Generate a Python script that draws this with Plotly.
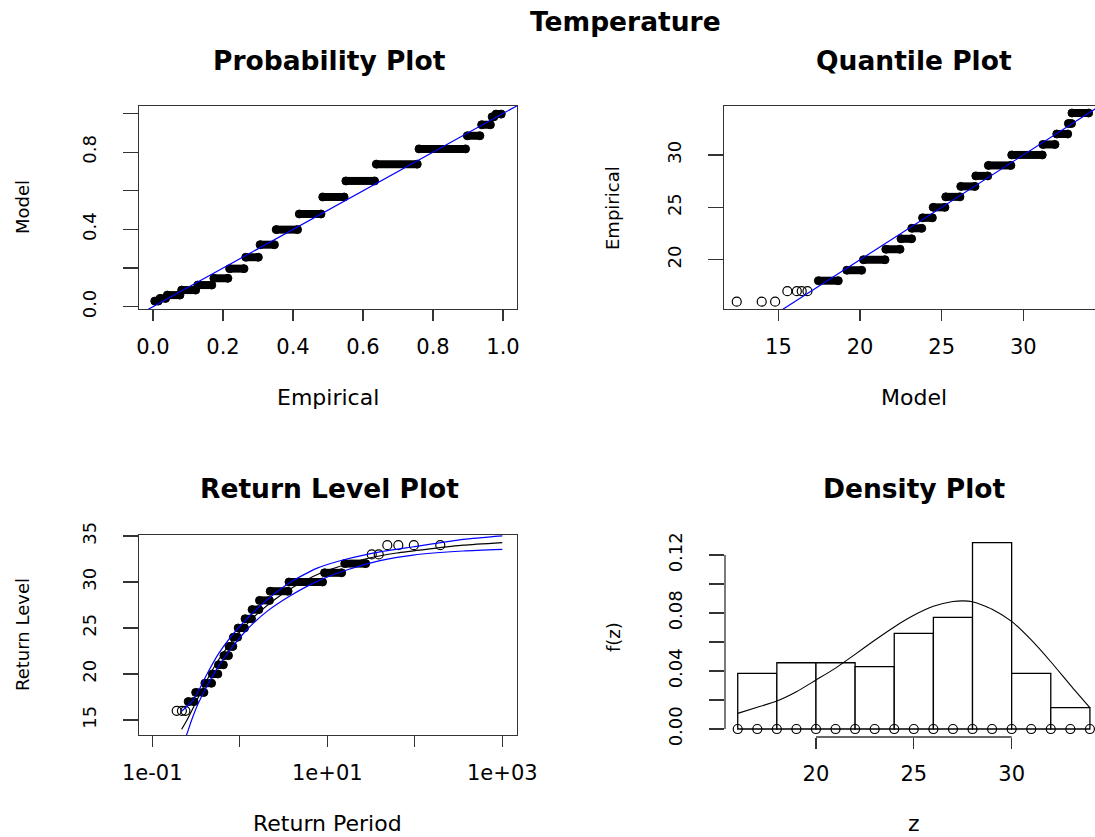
import plotly.graph_objects as go

# ---------------- values ----------------
levels = [16, 17, 18, 19, 20, 21, 22, 23, 24, 25, 26, 27, 28, 29, 30, 31, 32, 33, 34]

# Probability plot: model probability per level, empirical span of the tied points
pp_model = [0.029, 0.043, 0.060, 0.086, 0.112, 0.147, 0.197, 0.256, 0.321, 0.399,
            0.480, 0.568, 0.651, 0.738, 0.817, 0.885, 0.942, 0.983, 0.997]
pp_emp_lo = [0.005, 0.020, 0.041, 0.082, 0.128, 0.174, 0.219, 0.265, 0.306, 0.352,
             0.418, 0.485, 0.551, 0.638, 0.760, 0.898, 0.939, 0.969, 0.980]
pp_emp_hi = [0.015, 0.036, 0.077, 0.122, 0.168, 0.214, 0.260, 0.301, 0.347, 0.413,
             0.480, 0.546, 0.633, 0.755, 0.893, 0.934, 0.964, 0.974, 0.995]

# Quantile plot: model-quantile span of each level (18..34) + isolated points
qq_levels = [18, 19, 20, 21, 22, 23, 24, 25, 26, 27, 28, 29, 30, 31, 32, 33, 34]
qq_lo = [17.45, 19.19, 20.21, 21.58, 22.51, 23.17, 23.83, 24.48, 25.25, 26.17,
         27.09, 27.86, 29.29, 31.20, 32.05, 32.76, 32.98]
qq_hi = [18.67, 20.10, 21.53, 22.45, 23.16, 23.78, 24.43, 25.20, 26.12, 27.04,
         27.82, 29.24, 31.16, 31.94, 32.72, 32.95, 34.00]
qq_single_model = [12.45, 13.98, 14.80, 15.55, 16.13, 16.43, 16.78]
qq_single_level = [16, 16, 16, 17, 17, 17, 17]

# Return level plot: return-period span of each level (17..32) + isolated points
rl_levels = [17, 18, 19, 20, 21, 22, 23, 24, 25, 26, 27, 28, 29, 30, 31, 32]
rl_T_lo = [0.257, 0.313, 0.399, 0.486, 0.571, 0.659, 0.754, 0.845, 0.958, 1.148,
           1.381, 1.678, 2.224, 3.647, 9.29, 15.83]
rl_T_hi = [0.300, 0.389, 0.476, 0.561, 0.649, 0.743, 0.833, 0.945, 1.132, 1.361,
           1.652, 2.185, 3.560, 8.83, 14.58, 27.5]
rl_single_T = [0.190, 0.218, 0.239, 32.2, 38.7, 48.5, 64.8, 97.5, 195.5]
rl_single_level = [16, 16, 16, 33, 33, 34, 34, 34, 34]

# Return level curve and confidence band
rl_fit_T = [0.2163, 0.2495, 0.2825, 0.3177, 0.3573, 0.4036, 0.4592, 0.5272, 0.6152,
            0.7345, 0.8872, 1.0965, 1.3804, 1.7989, 2.4266, 3.4277, 5.188, 8.511,
            10.715, 25.76, 61.94, 148.9, 358.1, 1000]
rl_fit_level = [13.99, 15.0, 16.0, 17.0, 18.0, 19.0, 20.0, 21.0, 22.0, 23.0, 24.0,
                25.0, 26.0, 27.0, 28.0, 29.0, 30.0, 31.0, 31.35, 32.45, 33.15, 33.6,
                34.0, 34.28]
rl_ci_T = [0.2163, 0.2427, 0.2818, 0.3357, 0.4178, 0.5675, 0.7727, 1.1967, 2.0277,
           3.7411, 7.5509, 16.634, 39.99, 96.16, 358.1, 1000]
rl_ci_lower = [11.9, 13.19, 15.0, 16.81, 18.62, 20.80, 22.61, 24.78, 26.78, 28.48,
               30.04, 31.30, 32.32, 32.93, 33.37, 33.55]
rl_ci_upper = [15.95, 16.39, 16.96, 18.13, 19.92, 22.16, 23.93, 25.98, 28.02, 29.94,
               31.48, 32.50, 33.28, 33.83, 34.63, 35.01]

# Density plot
hist_breaks = [16, 18, 20, 22, 24, 26, 28, 30, 32, 34]
hist_density = [0.0384, 0.0457, 0.0457, 0.0430, 0.0660, 0.0770, 0.1285, 0.0384, 0.0147]
dens_z = [16, 17, 18, 19, 20, 21, 22, 23, 24, 25, 26, 27, 27.5, 28, 29, 30, 31, 32, 33, 34]
dens_f = [0.0108, 0.0150, 0.0193, 0.0257, 0.0338, 0.0420, 0.0515, 0.0612, 0.0704,
          0.0784, 0.0846, 0.0879, 0.0884, 0.0878, 0.0826, 0.0742, 0.0614, 0.0464,
          0.0303, 0.0147]

# Tick values / labels
pp_ticks = [0.0, 0.2, 0.4, 0.6, 0.8, 1.0]
pp_xlabels = ["0.0", "0.2", "0.4", "0.6", "0.8", "1.0"]
pp_ylabels = ["0.0", "", "0.4", "", "0.8", ""]
qq_xticks = [15, 20, 25, 30]
qq_yticks = [20, 25, 30]
rl_xticks = [0.1, 1, 10, 100, 1000]
rl_xlabels = ["1e-01", "", "1e+01", "", "1e+03"]
rl_yticks = [15, 20, 25, 30, 35]
de_xticks = [20, 25, 30]
de_yticks = [0.00, 0.02, 0.04, 0.06, 0.08, 0.10, 0.12]
de_ylabels = ["0.00", "", "0.04", "", "0.08", "", "0.12"]

# ---------------- figure ----------------
W, H = 1095, 837
FONT = "DejaVu Sans"
BLUE = "#0000ff"
AX = "#333333"


def fx(p):
    return p / W


def fy(p):
    return 1 - p / H


def segments(lo, hi, lev):
    xs, ys = [], []
    for a, b, l in zip(lo, hi, lev):
        xs += [a, b, None]
        ys += [l, l, None]
    return xs, ys


fig = go.Figure()


def add_clusters(lo, hi, lev, xa, ya):
    sx, sy = segments(lo, hi, lev)
    fig.add_trace(go.Scatter(x=sx, y=sy, mode="lines", xaxis=xa, yaxis=ya,
                             line=dict(color="black", width=8), hoverinfo="skip"))
    fig.add_trace(go.Scatter(x=list(lo) + list(hi), y=list(lev) + list(lev), mode="markers",
                             xaxis=xa, yaxis=ya,
                             marker=dict(symbol="circle", size=8, color="black",
                                         line=dict(color="black", width=1)),
                             hoverinfo="skip"))


open_marker = dict(symbol="circle-open", size=9, color="black", line=dict(color="black", width=1.2))

# Probability plot
add_clusters(pp_emp_lo, pp_emp_hi, pp_model, "x", "y")
fig.add_trace(go.Scatter(x=[-0.04, 1.04], y=[-0.04, 1.04], mode="lines", xaxis="x", yaxis="y",
                         line=dict(color=BLUE, width=1.2)))

# Quantile plot
add_clusters(qq_lo, qq_hi, qq_levels, "x2", "y2")
fig.add_trace(go.Scatter(x=qq_single_model, y=qq_single_level, mode="markers", xaxis="x2",
                         yaxis="y2", marker=open_marker))
fig.add_trace(go.Scatter(x=[10, 36], y=[10, 36], mode="lines", xaxis="x2", yaxis="y2",
                         line=dict(color=BLUE, width=1.2)))

# Return level plot
add_clusters(rl_T_lo, rl_T_hi, rl_levels, "x3", "y3")
fig.add_trace(go.Scatter(x=rl_single_T, y=rl_single_level, mode="markers", xaxis="x3",
                         yaxis="y3", marker=open_marker))
fig.add_trace(go.Scatter(x=rl_fit_T, y=rl_fit_level, mode="lines", xaxis="x3", yaxis="y3",
                         line=dict(color="black", width=1.2, shape="spline", smoothing=0.6)))
fig.add_trace(go.Scatter(x=rl_ci_T, y=rl_ci_lower, mode="lines", xaxis="x3", yaxis="y3",
                         line=dict(color=BLUE, width=1.2, shape="spline", smoothing=0.6)))
fig.add_trace(go.Scatter(x=rl_ci_T, y=rl_ci_upper, mode="lines", xaxis="x3", yaxis="y3",
                         line=dict(color=BLUE, width=1.2, shape="spline", smoothing=0.6)))

# Density plot
mids = [(a + b) / 2 for a, b in zip(hist_breaks[:-1], hist_breaks[1:])]
widths = [b - a for a, b in zip(hist_breaks[:-1], hist_breaks[1:])]
fig.add_trace(go.Bar(x=mids, y=hist_density, width=widths, xaxis="x4", yaxis="y4",
                     marker=dict(color="white", line=dict(color="black", width=1.3))))
fig.add_trace(go.Scatter(x=dens_z, y=dens_f, mode="lines", xaxis="x4", yaxis="y4",
                         line=dict(color="black", width=1.1, shape="spline", smoothing=0.6)))
fig.add_trace(go.Scatter(x=levels, y=[0] * len(levels), mode="markers", xaxis="x4", yaxis="y4",
                         marker=open_marker, cliponaxis=False))

base = dict(showgrid=False, zeroline=False, ticks="outside", tickcolor=AX, tickwidth=1.3,
            linecolor=AX, linewidth=1.3, color="black", automargin=False)
xfont = dict(family=FONT, size=21, color="black")
yfont = dict(family=FONT, size=18, color="black")

L_DOM = [fx(139), fx(517)]
R_DOM = [fx(724), 1.0]
T_DOM = [fy(309), fy(106)]
B_DOM = [fy(735), fy(535)]

fig.update_layout(
    width=W, height=H, margin=dict(l=0, r=0, t=0, b=0, pad=0, autoexpand=False),
    paper_bgcolor="white", plot_bgcolor="white", showlegend=False,
    font=dict(family=FONT, color="black"), bargap=0,
    xaxis=dict(base, domain=L_DOM, anchor="y", range=[-0.04, 1.04], tickvals=pp_ticks,
               ticktext=pp_xlabels, ticklen=11, showline=True, mirror=True, tickfont=xfont,
               ticklabelstandoff=7),
    yaxis=dict(base, domain=T_DOM, anchor="x", range=[-0.012, 1.039], tickvals=pp_ticks,
               ticktext=pp_ylabels, ticklen=15, showline=True, mirror=True, tickangle=-90,
               tickfont=yfont, ticklabelstandoff=20),
    xaxis2=dict(base, domain=R_DOM, anchor="y2", range=[11.67, 34.39], tickvals=qq_xticks,
                ticklen=11, showline=True, mirror=True, tickfont=xfont, ticklabelstandoff=7),
    yaxis2=dict(base, domain=T_DOM, anchor="x2", range=[15.30, 34.67], tickvals=qq_yticks,
                ticklen=15, showline=True, mirror=False, tickangle=-90, tickfont=yfont,
                ticklabelstandoff=20),
    xaxis3=dict(base, type="log", domain=L_DOM, anchor="y3", range=[-1.152, 3.168],
                tickvals=rl_xticks, ticktext=rl_xlabels, ticklen=11, showline=True, mirror=True,
                tickfont=xfont, ticklabelstandoff=7),
    yaxis3=dict(base, domain=B_DOM, anchor="x3", range=[13.37, 35.11], tickvals=rl_yticks,
                ticklen=15, showline=True, mirror=True, tickangle=-90, tickfont=yfont,
                ticklabelstandoff=20),
    xaxis4=dict(base, domain=[fx(725), 1.0], anchor="y4", range=[15.35, 34.26],
                tickvals=de_xticks, ticklen=11, showline=False, tickfont=xfont,
                ticklabelstandoff=7),
    yaxis4=dict(base, domain=[fy(737), fy(535)], anchor="x4", range=[-0.0055, 0.1338],
                tickvals=de_yticks, ticktext=de_ylabels, ticklen=15, showline=False,
                tickangle=-90, tickfont=yfont, ticklabelstandoff=20),
)

# axis lines of the density plot (R draws them only between the extreme ticks)
fig.add_shape(type="line", xref="x4", yref="y4 domain", x0=de_xticks[0], x1=de_xticks[-1],
              y0=0, y1=0, line=dict(color=AX, width=1.3))
fig.add_shape(type="line", xref="x4 domain", yref="y4", x0=0, x1=0, y0=de_yticks[0],
              y1=de_yticks[-1], line=dict(color=AX, width=1.3))


def note(text, x, y, size, bold=False, angle=0):
    fig.add_annotation(text=text, x=fx(x), y=fy(y), xref="paper", yref="paper",
                       showarrow=False, xanchor="center", yanchor="middle", textangle=angle,
                       font=dict(family=FONT, size=size, color="black",
                                 weight="bold" if bold else "normal"))


note("Temperature", 625, 22, 26.5, bold=True)
note("Probability Plot", 329, 60, 26.5, bold=True)
note("Quantile Plot", 914, 60, 26.5, bold=True)
note("Return Level Plot", 329, 488, 26.5, bold=True)
note("Density Plot", 914, 488, 26.5, bold=True)
note("Empirical", 328, 397, 22)
note("Model", 914, 397, 22)
note("Return Period", 328, 823, 22)
note("z", 914, 823, 22)
note("Model", 22, 207, 18, angle=-90)
note("Empirical", 612, 208, 18, angle=-90)
note("Return Level", 22, 635, 18, angle=-90)
note("f(z)", 613, 637, 18, angle=-90)

fig.write_html("out.html", config={"displayModeBar": False, "staticPlot": True},
               post_script="document.body.style.margin='0';document.body.style.padding='0';"
                           "document.body.style.overflow='hidden';")
